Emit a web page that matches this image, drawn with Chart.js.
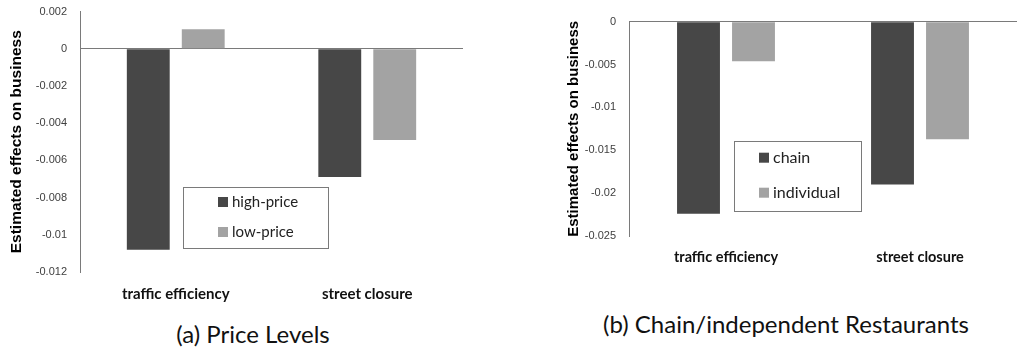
<!DOCTYPE html>
<html>
<head>
<title>Estimated effects on business</title>
<script src="https://cdn.jsdelivr.net/npm/chart.js"></script>
<style>
  body { margin: 0; background: #fff; width: 1019px; height: 352px; position: relative; overflow: hidden; }
  .box { position: absolute; }
  .caption { position: absolute; font-family: Lato, sans-serif; font-size: 24px; color: #111; white-space: nowrap; transform: translateX(-50%); }
</style>
</head>
<body>
<div class="box" style="left:0;top:0;width:470px;height:305px;"><canvas id="chart-a"></canvas></div>
<div class="box" style="left:520px;top:0;width:499px;height:270px;"><canvas id="chart-b"></canvas></div>
<div class="caption" style="left:253px;top:319px;">(a) Price Levels</div>
<div class="caption" style="left:786px;top:309px;">(b) Chain/independent Restaurants</div>

<script>
// data
const categories = ['traffic efficiency', 'street closure'];

const highPrice = [-0.0108, -0.0069];
const lowPrice = [0.00105, -0.0049];

const chain = [-0.0224, -0.019];
const individual = [-0.0046, -0.0137];

const DARK = '#474747';
const LIGHT = '#a3a3a3';

// legend box drawn inside the plot area
const boxLegend = {
    id: 'boxLegend',
    afterDraw(chart, args, opts) {
        const ctx = chart.ctx;
        const a = chart.chartArea;
        const x = a.left + opts.x, y = a.top + opts.y;
        ctx.save();
        ctx.fillStyle = '#fff';
        ctx.fillRect(x, y, opts.w, opts.h);
        ctx.strokeStyle = '#7a7a7a';
        ctx.lineWidth = 1;
        ctx.strokeRect(Math.round(x) + 0.5, Math.round(y) + 0.5, opts.w, opts.h);
        ctx.font = opts.font;
        ctx.textBaseline = 'middle';
        chart.data.datasets.forEach((ds, i) => {
            const cy = y + opts.rows[i];
            ctx.fillStyle = ds.backgroundColor;
            ctx.fillRect(x + opts.sx, cy - 5, 10, 10);
            ctx.fillStyle = '#222';
            ctx.fillText(ds.label, x + opts.tx, cy);
        });
        ctx.restore();
    }
};

function fmt(v) {
    const n = +(+v).toFixed(4);
    return n === 0 ? '0' : String(n);
}

function makeChart(id, sets, yMin, yMax, step, cfg) {
    new Chart(document.getElementById(id), {
        type: 'bar',
        data: {
            labels: categories,
            datasets: sets.map(s => ({
                label: s.label,
                data: s.data,
                backgroundColor: s.color,
                categoryPercentage: cfg.cp,
                barPercentage: 0.78
            }))
        },
        options: {
            responsive: true,
            maintainAspectRatio: false,
            animation: false,
            layout: { padding: cfg.padding },
            plugins: {
                legend: { display: false },
                tooltip: { enabled: false },
                boxLegend: cfg.legend
            },
            scales: {
                x: {
                    grid: { display: false, drawTicks: false },
                    border: { display: false },
                    ticks: {
                        padding: cfg.xPad,
                        color: '#111',
                        font: { family: 'Lato', weight: 'bold', size: cfg.xSize }
                    },
                    afterFit(s) { s.height = cfg.xHeight; }
                },
                y: {
                    min: yMin,
                    max: yMax,
                    ticks: {
                        stepSize: step,
                        padding: 13,
                        color: '#404040',
                        font: { family: 'Liberation Sans', size: 11 },
                        callback: fmt
                    },
                    grid: {
                        drawTicks: false,
                        color: c => (Math.abs(c.tick.value) < 1e-9 ? '#7a7a7a' : 'rgba(0,0,0,0)')
                    },
                    border: { display: true, color: '#7a7a7a' },
                    title: {
                        display: true,
                        text: 'Estimated effects on business',
                        color: '#000',
                        padding: { top: 0, bottom: 0 },
                        font: { family: 'Liberation Sans', weight: 'bold', size: cfg.titleSize }
                    },
                    afterFit(s) {
                        s.width = cfg.yWidth;
                        s.paddingTop = 0;
                        s.paddingBottom = 0;
                    }
                }
            }
        },
        plugins: [boxLegend]
    });
}

makeChart('chart-a',
    [{ label: 'high-price', data: highPrice, color: DARK },
     { label: 'low-price', data: lowPrice, color: LIGHT }],
    -0.012, 0.002, 0.002,
    {
        cp: 0.574, padding: { top: 11.5, right: 7, left: 7, bottom: 0 },
        xPad: 13, xSize: 15, xHeight: 33, yWidth: 73, titleSize: 15.5,
        legend: { x: 103, y: 175.5, w: 145, h: 61, sx: 35, tx: 49, rows: [15, 45], font: '15px Lato' }
    });

makeChart('chart-b',
    [{ label: 'chain', data: chain, color: DARK },
     { label: 'individual', data: individual, color: LIGHT }],
    -0.025, 0, 0.005,
    {
        cp: 0.567, padding: { top: 21.7, right: 2, left: 45, bottom: 0 },
        xPad: 13, xSize: 14.5, xHeight: 34, yWidth: 64, titleSize: 15,
        legend: { x: 105, y: 119, w: 127, h: 70, sx: 25, tx: 39, rows: [17, 52], font: '16px Lato' }
    });
</script>
</body>
</html>
